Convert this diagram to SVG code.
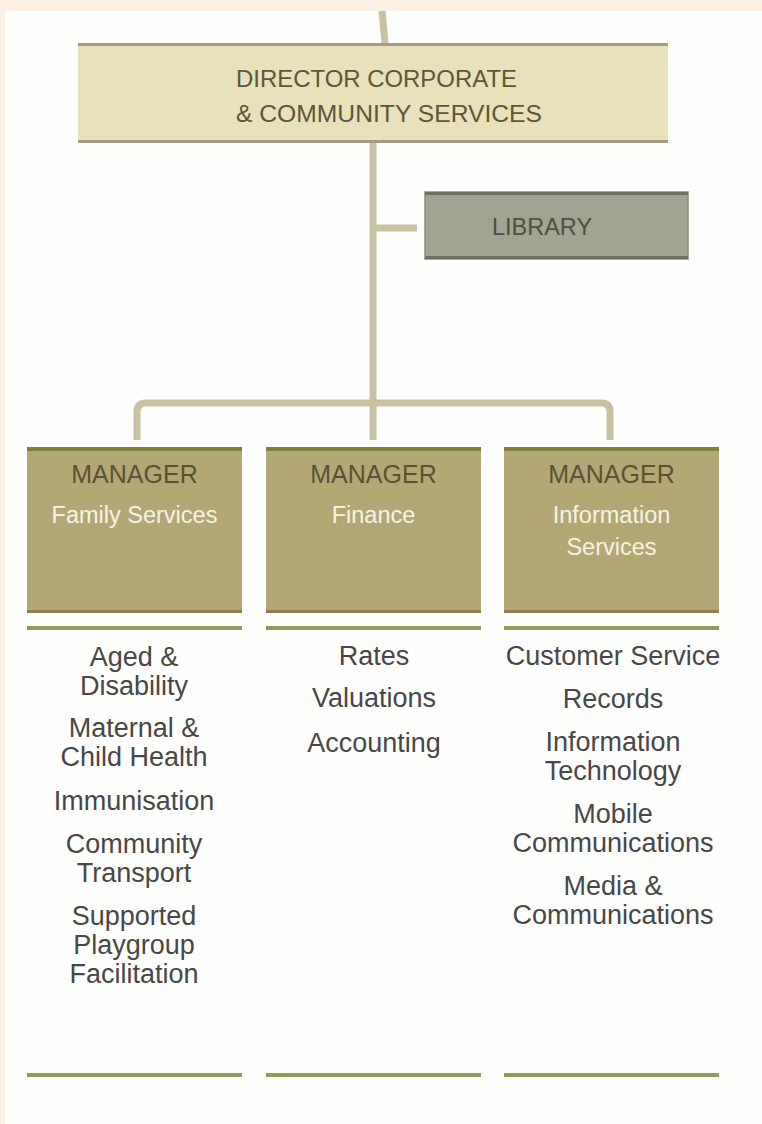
<svg xmlns="http://www.w3.org/2000/svg" width="762" height="1124" viewBox="0 0 762 1124">
  <style>
    .head { font-family: "Liberation Sans", Arial, sans-serif; font-size: 23.5px; fill: #5e5638; }
    .lib { font-family: "Liberation Sans", Arial, sans-serif; font-size: 23.5px; fill: #4e5040; text-anchor: middle; }
    .mgr { font-family: "Liberation Sans", Arial, sans-serif; font-size: 25px; fill: #5a5234; text-anchor: middle; }
    .sub { font-family: "Liberation Sans", Arial, sans-serif; font-size: 23.5px; fill: #f7f3e2; text-anchor: middle; }
    .item { font-family: "Liberation Sans", Arial, sans-serif; font-size: 27px; fill: #474747; text-anchor: middle; }
    .link { fill: none; stroke: #c7c3a0; stroke-width: 7; }
    .mbox { fill: #b3a776; }
    .mtop { fill: #7d8238; }
    .mbot { fill: #8c8052; }
    .rule { fill: #8e9c5a; }
  </style>

  <!-- page -->
  <rect x="0" y="0" width="762" height="1124" fill="#fefefd"/>
  <rect x="0" y="0" width="762" height="11" fill="#fcf0e2"/>
  <rect x="0" y="0" width="5" height="1124" fill="#fcf0e2"/>

  <!-- connectors -->
  <g id="connectors">
    <path class="link" d="M382,11 L385,43"/>
    <path class="link" d="M373,143 V440"/>
    <path class="link" d="M373,228 H417"/>
    <path class="link" d="M137,440 V412 Q137,403 146,403 H601 Q610,403 610,412 V440"/>
  </g>

  <!-- director -->
  <g id="director">
    <rect x="78" y="43" width="590" height="100" fill="#e9e1ba"/>
    <rect x="78" y="43" width="590" height="3" fill="#a29c80"/>
    <rect x="78" y="140" width="590" height="3" fill="#a29c80"/>
    <text class="head" x="236" y="87" textLength="281" lengthAdjust="spacingAndGlyphs">DIRECTOR CORPORATE</text>
    <text class="head" x="236" y="122" textLength="306" lengthAdjust="spacingAndGlyphs">&amp; COMMUNITY SERVICES</text>
  </g>

  <!-- library -->
  <g id="library">
    <rect x="425" y="192" width="263" height="67" fill="#a1a490" stroke="#8a8d78" stroke-width="1.5"/>
    <rect x="425" y="192" width="263" height="3" fill="#6f7262"/>
    <rect x="425" y="256" width="263" height="3" fill="#6f7262"/>
    <text class="lib" x="542" y="235">LIBRARY</text>
  </g>

  <!-- manager: family services -->
  <g id="mgr-family">
    <rect class="mbox" x="27" y="447" width="215" height="166"/>
    <rect class="mtop" x="27" y="447" width="215" height="4"/>
    <rect class="mbot" x="27" y="610" width="215" height="3"/>
    <text class="mgr" x="134.5" y="483">MANAGER</text>
    <text class="sub" x="134.5" y="523">Family Services</text>
  </g>

  <!-- manager: finance -->
  <g id="mgr-finance">
    <rect class="mbox" x="266" y="447" width="215" height="166"/>
    <rect class="mtop" x="266" y="447" width="215" height="4"/>
    <rect class="mbot" x="266" y="610" width="215" height="3"/>
    <text class="mgr" x="373.5" y="483">MANAGER</text>
    <text class="sub" x="373.5" y="523">Finance</text>
  </g>

  <!-- manager: information services -->
  <g id="mgr-info">
    <rect class="mbox" x="504" y="447" width="215" height="166"/>
    <rect class="mtop" x="504" y="447" width="215" height="4"/>
    <rect class="mbot" x="504" y="610" width="215" height="3"/>
    <text class="mgr" x="611.5" y="483">MANAGER</text>
    <text class="sub" x="611.5" y="523">Information</text>
    <text class="sub" x="611.5" y="555">Services</text>
  </g>

  <!-- family services units -->
  <g id="list-family">
    <rect class="rule" x="27" y="626" width="215" height="4"/>
    <text class="item" x="134" y="666">Aged &amp;</text>
    <text class="item" x="134" y="695">Disability</text>
    <text class="item" x="134" y="737">Maternal &amp;</text>
    <text class="item" x="134" y="766">Child Health</text>
    <text class="item" x="134" y="810">Immunisation</text>
    <text class="item" x="134" y="853">Community</text>
    <text class="item" x="134" y="882">Transport</text>
    <text class="item" x="134" y="925">Supported</text>
    <text class="item" x="134" y="954">Playgroup</text>
    <text class="item" x="134" y="983">Facilitation</text>
    <rect class="rule" x="27" y="1073" width="215" height="4"/>
  </g>

  <!-- finance units -->
  <g id="list-finance">
    <rect class="rule" x="266" y="626" width="215" height="4"/>
    <text class="item" x="374" y="665">Rates</text>
    <text class="item" x="374" y="707">Valuations</text>
    <text class="item" x="374" y="752">Accounting</text>
    <rect class="rule" x="266" y="1073" width="215" height="4"/>
  </g>

  <!-- information services units -->
  <g id="list-info">
    <rect class="rule" x="504" y="626" width="215" height="4"/>
    <text class="item" x="613" y="665">Customer Service</text>
    <text class="item" x="613" y="708">Records</text>
    <text class="item" x="613" y="751">Information</text>
    <text class="item" x="613" y="780">Technology</text>
    <text class="item" x="613" y="823">Mobile</text>
    <text class="item" x="613" y="852">Communications</text>
    <text class="item" x="613" y="895">Media &amp;</text>
    <text class="item" x="613" y="924">Communications</text>
    <rect class="rule" x="504" y="1073" width="215" height="4"/>
  </g>
</svg>
